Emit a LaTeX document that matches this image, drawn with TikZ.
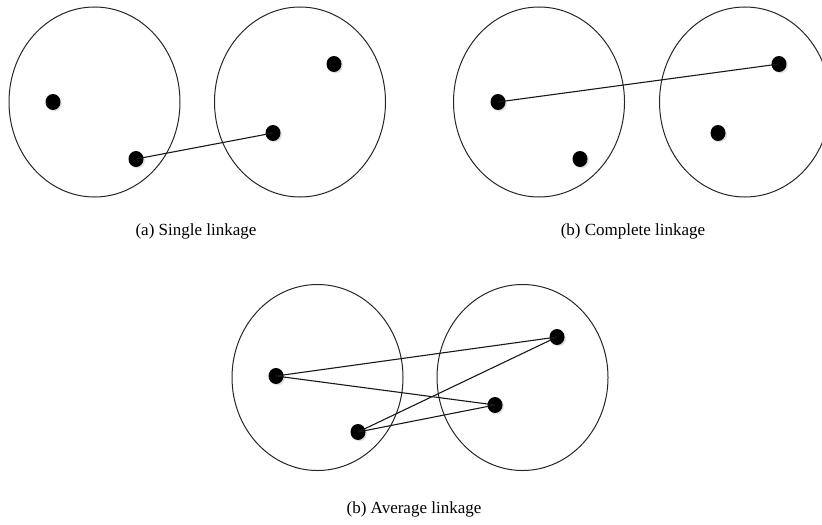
\documentclass[tikz,border=0pt]{standalone}
\usepackage{fontspec}
\setmainfont{Liberation Serif}
\usetikzlibrary{shapes.geometric,shadows}
\tikzset{
  dot/.style={ellipse,fill=black,inner sep=0pt,minimum width=7.5pt,minimum height=8pt,
    circular drop shadow={shadow xshift=0.6pt,shadow yshift=-0.6pt,shadow scale=1.05,opacity=0.25}},
  cluster/.style={line width=0.5pt,draw=black!85},
  link/.style={line width=0.55pt,draw=black!90},
  caption/.style={font=\fontsize{8.5}{10}\selectfont}
}

\begin{document}
\begin{tikzpicture}[x=0.5pt,y=-0.5pt]
        \def\rx{42.75pt}
        \def\ry{47.5pt}
        \def\ryc{46.5pt}
        \useasboundingbox (0,0) rectangle (822,524);

        % (a) single linkage
        \draw[cluster] (94.5,102) ellipse [x radius=\rx, y radius=\ry];
        \draw[cluster] (300,102) ellipse [x radius=\rx, y radius=\ry];
        \node[dot] (a1) at (53,102) {};
        \node[dot] (a2) at (136,159) {};
        \node[dot] (a3) at (273,133) {};
        \node[dot] (a4) at (334,64) {};
        \draw[link] (a2.center) -- (a3.center);
        \node[caption] (capA) at (196,231) {(a) Single linkage};

        % (b) complete linkage
        \draw[cluster] (539,102) ellipse [x radius=\rx, y radius=\ry];
        \draw[cluster] (745,102) ellipse [x radius=\rx, y radius=\ry];
        \node[dot] (b1) at (498,102) {};
        \node[dot] (b2) at (580,159) {};
        \node[dot] (b3) at (718,133) {};
        \node[dot] (b4) at (779,64) {};
        \draw[link] (b1.center) -- (b4.center);
        \node[caption] (capB) at (633,231) {(b) Complete linkage};

        % (c) average linkage
        \draw[cluster] (317.5,377.5) ellipse [x radius=\rx, y radius=\ryc];
        \draw[cluster] (522.5,377.5) ellipse [x radius=\rx, y radius=\ryc];
        \node[dot] (c1) at (276,376) {};
        \node[dot] (c2) at (358,432) {};
        \node[dot] (c3) at (495,405) {};
        \node[dot] (c4) at (557,337) {};
        \draw[link] (c1.center) -- (c4.center);
        \draw[link] (c1.center) -- (c3.center);
        \draw[link] (c2.center) -- (c4.center);
        \draw[link] (c2.center) -- (c3.center);
        \node[caption] (capC) at (414,509) {(b) Average linkage};
\end{tikzpicture}
\end{document}
